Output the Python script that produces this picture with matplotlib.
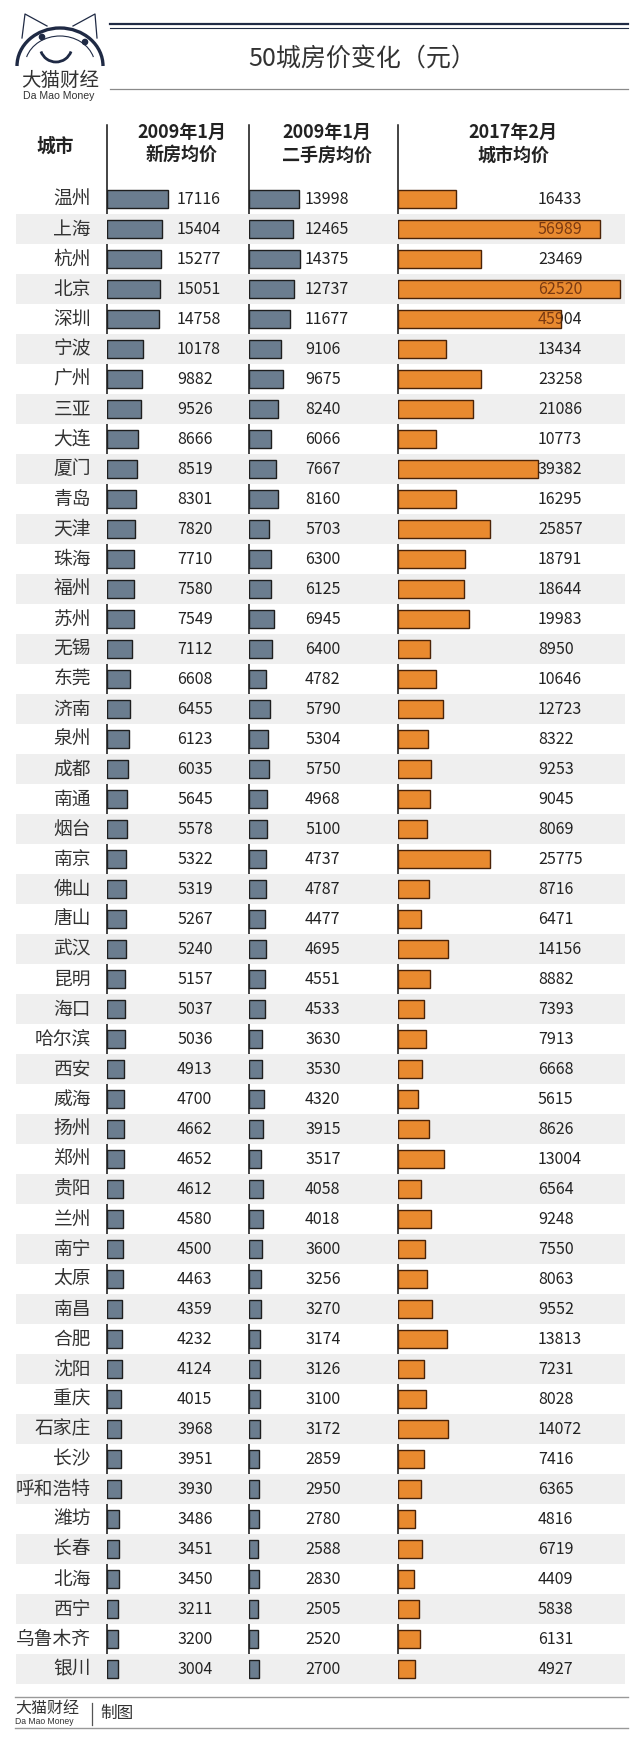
import matplotlib
matplotlib.use("Agg")
import matplotlib.pyplot as plt
from matplotlib.patches import Arc, Circle

plt.rcParams['font.family'] = ['Noto Sans CJK SC', 'DejaVu Sans']

# ---- data ----
cities = ["温州", "上海", "杭州", "北京", "深圳", "宁波", "广州", "三亚", "大连", "厦门",
          "青岛", "天津", "珠海", "福州", "苏州", "无锡", "东莞", "济南", "泉州", "成都",
          "南通", "烟台", "南京", "佛山", "唐山", "武汉", "昆明", "海口", "哈尔滨", "西安",
          "威海", "扬州", "郑州", "贵阳", "兰州", "南宁", "太原", "南昌", "合肥", "沈阳",
          "重庆", "石家庄", "长沙", "呼和浩特", "潍坊", "长春", "北海", "西宁", "乌鲁木齐", "银川"]
new_2009 = [17116, 15404, 15277, 15051, 14758, 10178, 9882, 9526, 8666, 8519,
            8301, 7820, 7710, 7580, 7549, 7112, 6608, 6455, 6123, 6035,
            5645, 5578, 5322, 5319, 5267, 5240, 5157, 5037, 5036, 4913,
            4700, 4662, 4652, 4612, 4580, 4500, 4463, 4359, 4232, 4124,
            4015, 3968, 3951, 3930, 3486, 3451, 3450, 3211, 3200, 3004]
used_2009 = [13998, 12465, 14375, 12737, 11677, 9106, 9675, 8240, 6066, 7667,
             8160, 5703, 6300, 6125, 6945, 6400, 4782, 5790, 5304, 5750,
             4968, 5100, 4737, 4787, 4477, 4695, 4551, 4533, 3630, 3530,
             4320, 3915, 3517, 4058, 4018, 3600, 3256, 3270, 3174, 3126,
             3100, 3172, 2859, 2950, 2780, 2588, 2830, 2505, 2520, 2700]
city_2017 = [16433, 56989, 23469, 62520, 45904, 13434, 23258, 21086, 10773, 39382,
             16295, 25857, 18791, 18644, 19983, 8950, 10646, 12723, 8322, 9253,
             9045, 8069, 25775, 8716, 6471, 14156, 8882, 7393, 7913, 6668,
             5615, 8626, 13004, 6564, 9248, 7550, 8063, 9552, 13813, 7231,
             8028, 14072, 7416, 6365, 4816, 6719, 4409, 5838, 6131, 4927]
headers = [("2009年1月", "新房均价"), ("2009年1月", "二手房均价"), ("2017年2月", "城市均价")]

W, H = 640, 1747
fig = plt.figure(figsize=(W / 100, H / 100), dpi=100)

GRAY = "#6b7d8f"
ORANGE = "#e98a2f"
BAND = "#efefef"
TXT = "#222222"
NUM_W = "light"

# background axes in pixel coords
bg = fig.add_axes([0, 0, 1, 1])
bg.set_xlim(0, W)
bg.set_ylim(H, 0)
bg.axis("off")

# rows region
n = len(cities)
row_top, row_bot = 184, 1684
tab_rect = [0, (H - row_bot) / H, 1, (row_bot - row_top) / H]
tab = fig.add_axes(tab_rect)
tab.set_xlim(0, W)
tab.set_ylim(n - 0.5, -0.5)
tab.axis("off")
tab.patch.set_visible(False)

val_x = [177, 305, 538]
for i, c in enumerate(cities):
    if i % 2 == 1:
        tab.axhspan(i - 0.5, i + 0.5, xmin=16 / W, xmax=625 / W, color=BAND, lw=0, zorder=0)
    tab.text(91, i, c, ha="right", va="center", fontsize=13.5, color="#333333")
    for x, vals in zip(val_x, (new_2009, used_2009, city_2017)):
        tab.text(x, i, str(vals[i]), ha="left", va="center", fontsize=11.5,
                 color=TXT, fontweight=NUM_W)

# bar axes
px_per_unit = 0.00355
cols = [(107, 142, new_2009, GRAY, "#1e1e1e"),
        (249, 149, used_2009, GRAY, "#1e1e1e"),
        (398, 230, city_2017, ORANGE, "#4a2308")]
for k, (left, width, vals, fc, ec) in enumerate(cols):
    ax = fig.add_axes([left / W, tab_rect[1], width / W, tab_rect[3]])
    ax.set_xlim(0, width / px_per_unit)
    ax.set_ylim(n - 0.5, -0.5)
    ax.axis("off")
    ax.patch.set_visible(False)
    bars = ax.barh(range(n), vals, height=0.6, left=0, color=fc, edgecolor=ec, linewidth=1.0)
    if k == 2:
        # labels that sit under a long bar show through in dark brown
        for i, b in enumerate(bars):
            t = ax.text(val_x[k], i, str(vals[i]), ha="left", va="center", fontsize=11.5,
                        color="#7a3a12", fontweight=NUM_W, transform=tab.transData,
                        zorder=5, clip_on=True)
            t.set_clip_path(b)

# column axis lines
for x in (107, 249, 398):
    bg.plot([x, x], [125, 1681], color="#111111", lw=1.1)

# headers
bg.text(55, 146, "城市", ha="center", va="center", fontsize=13.5, fontweight="bold", color=TXT)
for cx, (l1, l2) in zip((182, 327, 513), headers):
    bg.text(cx, 132, l1, ha="center", va="center", fontsize=13, fontweight="bold", color=TXT)
    bg.text(cx, 155, l2, ha="center", va="center", fontsize=13, fontweight="bold", color=TXT)

# title block
NAVY = "#1f2a44"
bg.plot([110, 628], [23.5, 23.5], color=NAVY, lw=1.6)
bg.plot([110, 628], [27.8, 27.8], color=NAVY, lw=0.8)
bg.plot([110, 628], [89, 89], color="#8a8a8a", lw=0.9)
bg.text(362, 60, "50城房价变化（元）", ha="center", va="center", fontsize=18,
        color="#333333", fontweight="light")

# logo
bg.add_patch(Arc((60, 66), 86, 76, theta1=180, theta2=360, color=NAVY, lw=2.4))
bg.add_patch(Arc((60, 66), 70, 60, theta1=195, theta2=345, color=NAVY, lw=0.8))
bg.add_patch(Arc((56, 46), 32, 32, theta1=20, theta2=160, color=NAVY, lw=2.0))
bg.add_patch(Circle((42, 37), 2.6, color=NAVY))
bg.add_patch(Circle((85, 42), 2.6, color=NAVY))
bg.plot([22, 25, 47], [38, 14, 26], color=NAVY, lw=0.9)
bg.plot([73, 95, 97], [26, 14, 38], color=NAVY, lw=0.9)
bg.text(60, 80, "大猫财经", ha="center", va="center", fontsize=14, color="#333333")
bg.text(59, 96, "Da Mao Money", ha="center", va="center", fontsize=7.6,
        family="Liberation Sans", color="#333333")

# footer
bg.plot([15, 628], [1697, 1697], color="#999999", lw=1.0)
bg.plot([15, 628], [1728, 1728], color="#999999", lw=1.0)
bg.text(15, 1708, "大猫财经", ha="left", va="center", fontsize=11.5, color="#333333")
bg.text(15, 1721, "Da Mao Money", ha="left", va="center", fontsize=6.2,
        family="Liberation Sans", color="#333333")
bg.plot([92, 92], [1703, 1725], color="#555555", lw=0.9)
bg.text(100, 1713, "制图", ha="left", va="center", fontsize=12, color="#333333")

fig.savefig("out.png", dpi=100)
